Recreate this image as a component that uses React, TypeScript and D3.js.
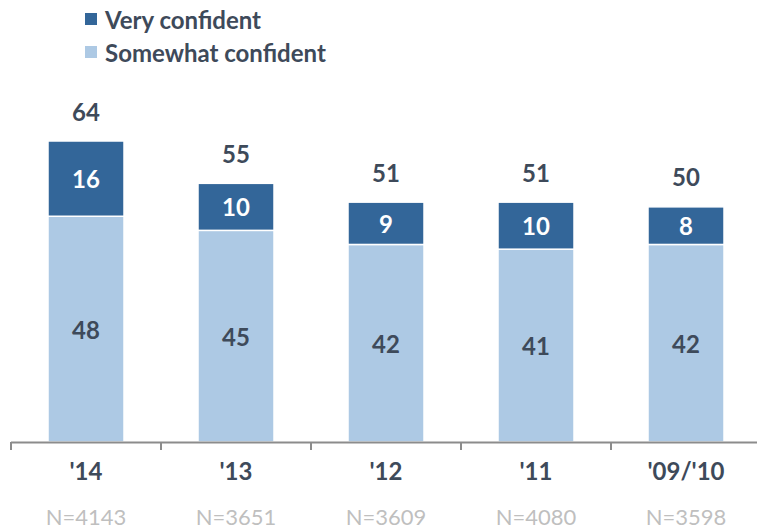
import React from "react";
import * as d3 from "d3";

const categories = ["'14", "'13", "'12", "'11", "'09/'10"];
const somewhat = [48, 45, 42, 41, 42];
const very = [16, 10, 9, 10, 8];
const totals = [64, 55, 51, 51, 50];
const nLabels = ["N=4143", "N=3651", "N=3609", "N=4080", "N=3598"];
const seriesNames = ["Very confident", "Somewhat confident"];

const W = 757;
const H = 532;
const DARK = "#336699";
const LIGHT = "#adc9e4";
const TEXT = "#3e4a5a";
const FONT = "Lato, 'Open Sans', sans-serif";

export default function App() {
  const x = d3.scaleBand<string>().domain(categories).range([11, 761]).paddingInner(0).paddingOuter(0);
  const y = d3.scaleLinear().domain([0, 64]).range([442, 141]);
  const bw = 76;
  const baseY = y(0);

  return (
    <svg width={W} height={H} style={{ position: "absolute", left: 0, top: 0, background: "#fff" }}>
      {/* legend */}
      <g fontFamily={FONT} fontWeight="bold" fontSize={24} fill={TEXT}>
        <rect x={85} y={13} width={12} height={12} fill={DARK} />
        <text x={105} y={19} dominantBaseline="central">{seriesNames[0]}</text>
        <rect x={85} y={46} width={12} height={12} fill={LIGHT} />
        <text x={105} y={52} dominantBaseline="central">{seriesNames[1]}</text>
      </g>
      {categories.map((c, i) => {
        const cx = (x(c) as number) + x.bandwidth() / 2;
        const x0 = cx - bw / 2;
        const yS = y(somewhat[i]);
        const yT = y(somewhat[i] + very[i]);
        return (
          <g key={c} fontFamily={FONT} fontWeight="bold" fontSize={24}>
            <rect x={x0} y={yS} width={bw} height={baseY - yS} fill={LIGHT} stroke="#fff" strokeWidth={1.5} />
            <rect x={x0} y={yT} width={bw} height={yS - yT} fill={DARK} stroke="#fff" strokeWidth={1.5} />
            <text x={cx} y={(yS + baseY) / 2} textAnchor="middle" dominantBaseline="central" fill={TEXT}>{somewhat[i]}</text>
            <text x={cx} y={(yT + yS) / 2} textAnchor="middle" dominantBaseline="central" fill="#fff">{very[i]}</text>
            <text x={cx} y={yT - 30} textAnchor="middle" dominantBaseline="central" fill={TEXT}>{totals[i]}</text>
            <text x={cx} y={470} textAnchor="middle" dominantBaseline="central" fill={TEXT}>{c}</text>
            <text x={cx} y={525} textAnchor="middle" fill="#bfbfbf" fontWeight="normal" fontSize={22}>{nLabels[i]}</text>
          </g>
        );
      })}
      {/* axis */}
      <line x1={11} x2={761} y1={442.5} y2={442.5} stroke="#8c8c8c" strokeWidth={2} />
      {categories.map((c) => (
        <line key={"t" + c} x1={(x(c) as number)} x2={(x(c) as number)} y1={442} y2={450} stroke="#8c8c8c" strokeWidth={2} />
      ))}
    </svg>
  );
}
